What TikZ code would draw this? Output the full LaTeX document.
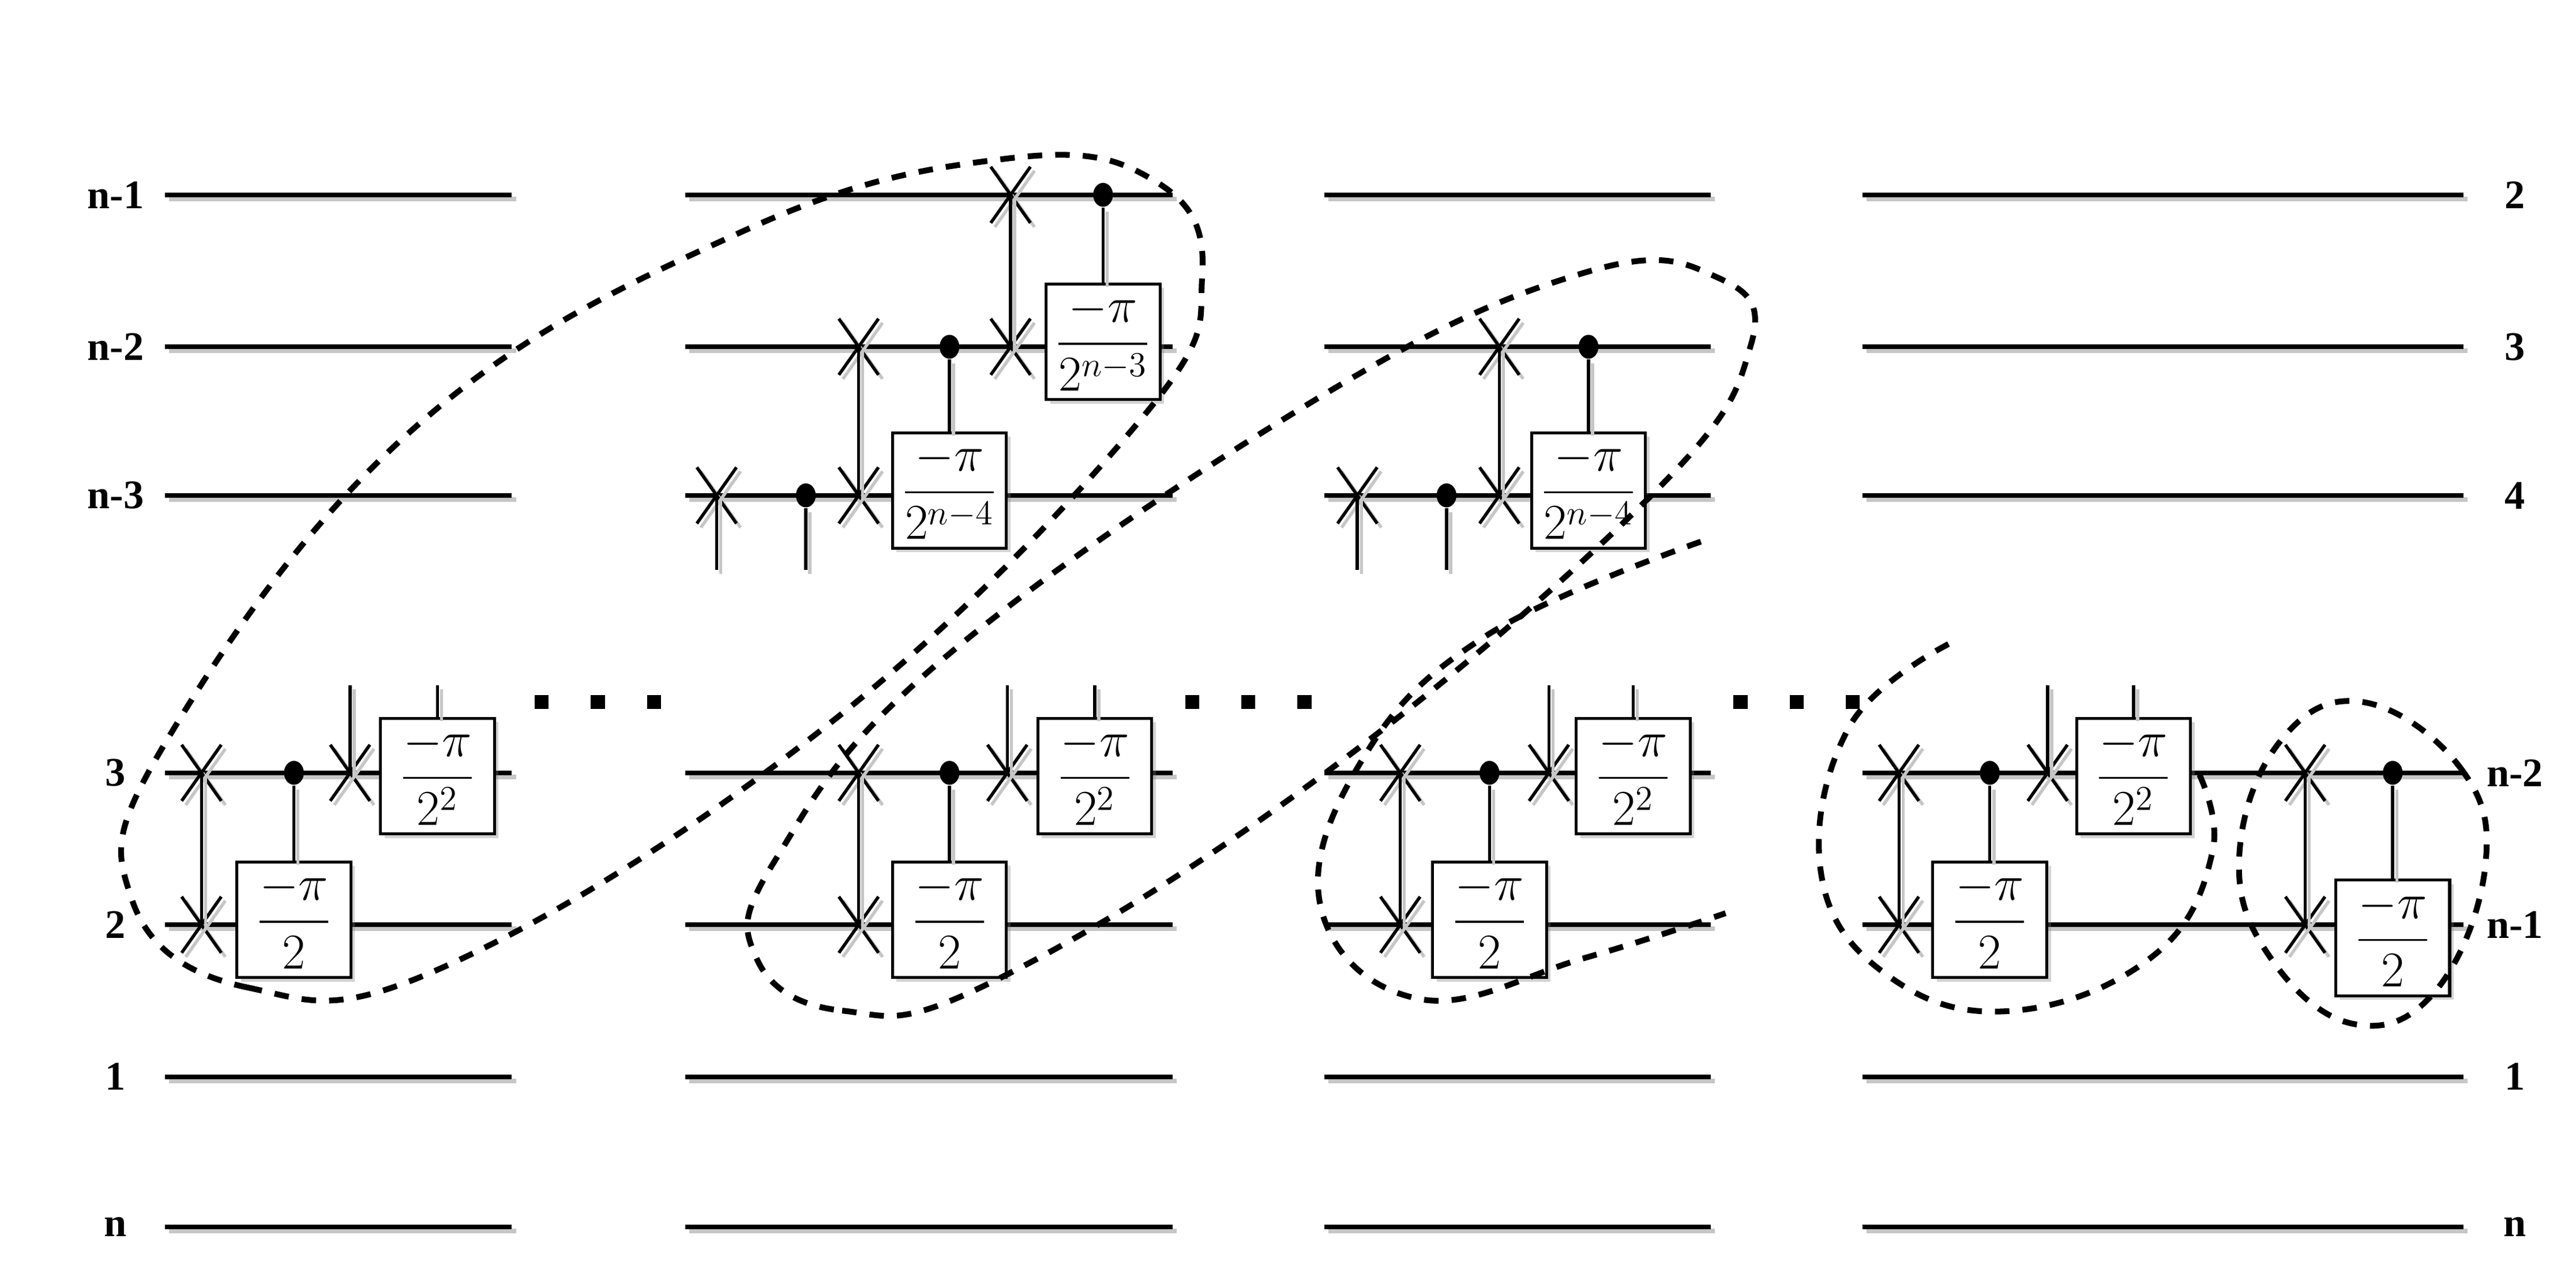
\documentclass[tikz,border=0pt]{standalone}
\usepackage{amsmath}
\usepackage{fontspec}
\newfontfamily\labfont{Liberation Serif}
\usetikzlibrary{shadows,shapes.geometric}
\tikzset{
  wire/.style={line width=1.6pt,preaction={draw=gray!45,line width=1.6pt,transform canvas={xshift=1.4pt,yshift=-1.4pt}}},
  vline/.style={line width=1.1pt,preaction={draw=gray!45,line width=1.1pt,transform canvas={xshift=1.4pt,yshift=-1.4pt}}},
  gate/.style={draw,fill=white,line width=1pt,minimum width=1.38cm,minimum height=1.4cm,inner sep=1pt,font=\fontsize{18}{22}\selectfont,
    drop shadow={opacity=0.35,shadow xshift=1.4pt,shadow yshift=-1.4pt}},
  ctrl/.style={fill=black,ellipse,minimum width=0.24cm,minimum height=0.29cm,inner sep=0pt},
  lab/.style={font=\labfont\fontsize{14}{16}\selectfont\bfseries},
  loop/.style={dash pattern=on 5pt off 4.5pt,line width=2pt},
  dotsq/.style={fill=black,minimum size=0.17cm,inner sep=0pt}
}
\newcommand{\swapx}[2]{%
  \draw[vline] (#1-12,#2-17) -- (#1+12,#2+17);
  \draw[vline] (#1-12,#2+17) -- (#1+12,#2-17);}
\begin{document}
\begin{tikzpicture}[x=0.02cm,y=-0.02cm]
\useasboundingbox (0,0) rectangle (1560,766);
% wires
\foreach \y/\l/\r in {118/n-1/2,210/n-2/3,300/n-3/4,468/3/n-2,560/2/n-1,652/1/1,743/n/n}{
  \node[lab] (l\y) at (70,\y) {\l};
  \node[lab] (r\y) at (1523,\y) {\r};
  \foreach \a/\b in {100/310,415/710,802/1036,1128/1492}
    \draw[wire] (\a,\y) -- (\b,\y);
}
% lower blocks
\foreach \sa/\d/\sb/\g [count=\i] in {122/178/212/265,520/575/610/663,848/902/938/989,1150/1205/1240/1292}{
  \swapx{\sa}{468}\swapx{\sa}{560}
  \draw[vline] (\sa,468) -- (\sa,560);
  \node[ctrl] (c\i) at (\d,468) {};
  \node[gate] (p\i) at (\d,557) {$\dfrac{-\pi}{2}$};
  \draw[vline] (c\i) -- (p\i.north);
  \swapx{\sb}{468}
  \draw[vline] (\sb,468) -- (\sb,415);
  \node[gate] (q\i) at (\g,470) {$\dfrac{-\pi}{2^2}$};
  \draw[vline] (q\i.north) -- (\g,415);
}
\swapx{1396}{468}\swapx{1396}{560}
\draw[vline] (1396,468) -- (1396,560);
\node[ctrl] (c5) at (1449,468) {};
\node[gate] (p5) at (1449,568) {$\dfrac{-\pi}{2}$};
\draw[vline] (c5) -- (p5.north);
% upper blocks
\swapx{434}{300}\draw[vline] (434,300) -- (434,345);
\node[ctrl] (u1) at (488,300) {};\draw[vline] (u1) -- (488,345);
\swapx{520}{210}\swapx{520}{300}\draw[vline] (520,210) -- (520,300);
\node[ctrl] (u2) at (575,210) {};
\node[gate] (t2) at (575,297) {$\dfrac{-\pi}{2^{n-4}}$};
\draw[vline] (u2) -- (t2.north);
\swapx{612}{118}\swapx{612}{210}\draw[vline] (612,118) -- (612,210);
\node[ctrl] (u3) at (668,118) {};
\node[gate] (t3) at (668,207) {$\dfrac{-\pi}{2^{n-3}}$};
\draw[vline] (u3) -- (t3.north);
\swapx{822}{300}\draw[vline] (822,300) -- (822,345);
\node[ctrl] (u4) at (876,300) {};\draw[vline] (u4) -- (876,345);
\swapx{908}{210}\swapx{908}{300}\draw[vline] (908,210) -- (908,300);
\node[ctrl] (u5) at (962,210) {};
\node[gate] (t5) at (962,297) {$\dfrac{-\pi}{2^{n-4}}$};
\draw[vline] (u5) -- (t5.north);
% dots
\foreach \x in {328,362,396,722,756,790,1054,1088,1122}
  \node[dotsq] (s\x) at (\x,425) {};
% dashed loops
\draw[loop] plot[smooth cycle,tension=0.7] coordinates {(80,545) (150,598) (270,585) (500,440) (690,255) (728,168) (700,110) (610,96) (450,140) (250,260) (100,450)};
\draw[loop] plot[smooth cycle,tension=0.7] coordinates {(458,580) (510,612) (600,595) (800,470) (1000,300) (1060,210) (1040,168) (960,165) (800,240) (570,400) (470,520)};
\draw[loop] plot[smooth,tension=0.7] coordinates {(1030,328) (900,385) (825,460) (800,550) (860,605) (960,580) (1045,553)};
\draw[loop] plot[smooth,tension=0.7] coordinates {(1180,390) (1120,440) (1103,530) (1145,592) (1220,612) (1305,578) (1340,515) (1330,465)};
\draw[loop] plot[smooth cycle,tension=0.7] coordinates {(1430,425) (1490,465) (1505,525) (1475,600) (1425,620) (1375,580) (1356,520) (1380,450)};
\end{tikzpicture}
\end{document}
